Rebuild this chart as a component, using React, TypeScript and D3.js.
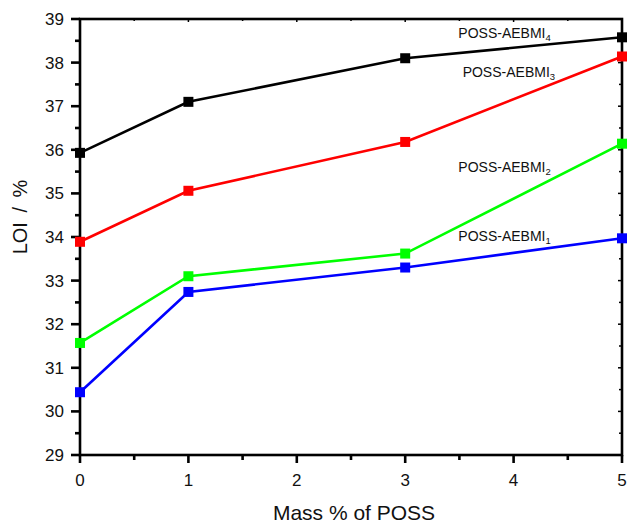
import React from "react";
import * as d3 from "d3";

// Mass fraction of POSS (%) and limiting oxygen index (%) for each series
const massPoss = [0, 1, 3, 5];
const loiAebmi1 = [30.44, 32.74, 33.3, 33.97];
const loiAebmi2 = [31.57, 33.1, 33.62, 36.14];
const loiAebmi3 = [33.89, 35.06, 36.18, 38.14];
const loiAebmi4 = [35.93, 37.1, 38.1, 38.58];

const seriesNames = ["1", "2", "3", "4"];
const seriesColors = ["#0000ff", "#00ff00", "#ff0000", "#000000"];
const xTicks = [0, 1, 2, 3, 4, 5];
const yTicks = [29, 30, 31, 32, 33, 34, 35, 36, 37, 38, 39];

const W = 630;
const H = 524;
const margin = { left: 80, right: 8, top: 19, bottom: 69 };

export default function App() {
  const x = d3.scaleLinear().domain([0, 5]).range([margin.left, W - margin.right]);
  const y = d3.scaleLinear().domain([29, 39]).range([H - margin.bottom, margin.top]);
  const allSeries = [loiAebmi1, loiAebmi2, loiAebmi3, loiAebmi4];
  const line = d3
    .line<number>()
    .x((_, i) => x(massPoss[i]))
    .y((d) => y(d));

  const x0 = x(0), x1 = x(5), yb = y(29), yt = y(39);
  const xMinor = d3.range(0.5, 5, 1);
  const yMinor = d3.range(29.5, 39, 1);
  const font = "'Liberation Sans', Arial, Helvetica, sans-serif";

  // Series labels placed near the right end of each curve
  const labelPos = [
    { xv: 3.49, yv: 33.91 },
    { xv: 3.49, yv: 35.49 },
    { xv: 3.53, yv: 37.67 },
    { xv: 3.49, yv: 38.56 },
  ];

  return (
    <svg width={W} height={H} style={{ position: "absolute", left: 0, top: 0, background: "#fff" }} fontFamily={font}>
      {/* frame */}
      <rect x={x0} y={yt} width={x1 - x0} height={yb - yt} fill="none" stroke="#000" strokeWidth={2.6} />
      {/* bottom axis ticks (outward) and top axis ticks (inward) */}
      {xTicks.map((t) => (
        <g key={"xt" + t}>
          <line x1={x(t)} x2={x(t)} y1={yb} y2={yb + 8} stroke="#000" strokeWidth={2.6} />
          <line x1={x(t)} x2={x(t)} y1={yt} y2={yt + 3} stroke="#000" strokeWidth={1.5} />
          <text x={x(t)} y={486} fontSize={17} textAnchor="middle" fill="#111">{t}</text>
        </g>
      ))}
      {xMinor.map((t) => (
        <g key={"xm" + t}>
          <line x1={x(t)} x2={x(t)} y1={yb} y2={yb + 5} stroke="#000" strokeWidth={2.6} />
          <line x1={x(t)} x2={x(t)} y1={yt} y2={yt + 2} stroke="#000" strokeWidth={1.5} />
        </g>
      ))}
      {/* left axis ticks (outward) and right axis ticks (inward) */}
      {yTicks.map((t) => (
        <g key={"yt" + t}>
          <line x1={x0 - 9} x2={x0} y1={y(t)} y2={y(t)} stroke="#000" strokeWidth={2.6} />
          <line x1={x1 - 4} x2={x1} y1={y(t)} y2={y(t)} stroke="#000" strokeWidth={1.5} />
          <text x={64} y={y(t) + 6} fontSize={17} textAnchor="end" fill="#111">{t}</text>
        </g>
      ))}
      {yMinor.map((t) => (
        <g key={"ym" + t}>
          <line x1={x0 - 5} x2={x0} y1={y(t)} y2={y(t)} stroke="#000" strokeWidth={2.6} />
          <line x1={x1 - 3} x2={x1} y1={y(t)} y2={y(t)} stroke="#000" strokeWidth={1.5} />
        </g>
      ))}
      {/* axis titles */}
      <text x={354} y={520} fontSize={21} textAnchor="middle" fill="#111">Mass % of POSS</text>
      <text
        transform={`translate(27,217) rotate(-90)`}
        fontSize={20}
        textAnchor="middle"
        fill="#111"
        wordSpacing={4}
      >
        LOI / %
      </text>
      {/* series */}
      {allSeries.map((s, k) => (
        <g key={"s" + k}>
          <path d={line(s) || ""} fill="none" stroke={seriesColors[k]} strokeWidth={2.6} />
          {s.map((v, i) => (
            <rect
              key={i}
              x={x(massPoss[i]) - 5}
              y={y(v) - 5}
              width={10}
              height={10}
              fill={seriesColors[k]}
            />
          ))}
        </g>
      ))}
      {/* series labels */}
      {labelPos.map((p, k) => (
        <text key={"l" + k} x={x(p.xv)} y={y(p.yv)} fontSize={14} fill="#111">
          POSS-AEBMI
          <tspan fontSize={9.5} dy={3}>{seriesNames[k]}</tspan>
        </text>
      ))}
    </svg>
  );
}
